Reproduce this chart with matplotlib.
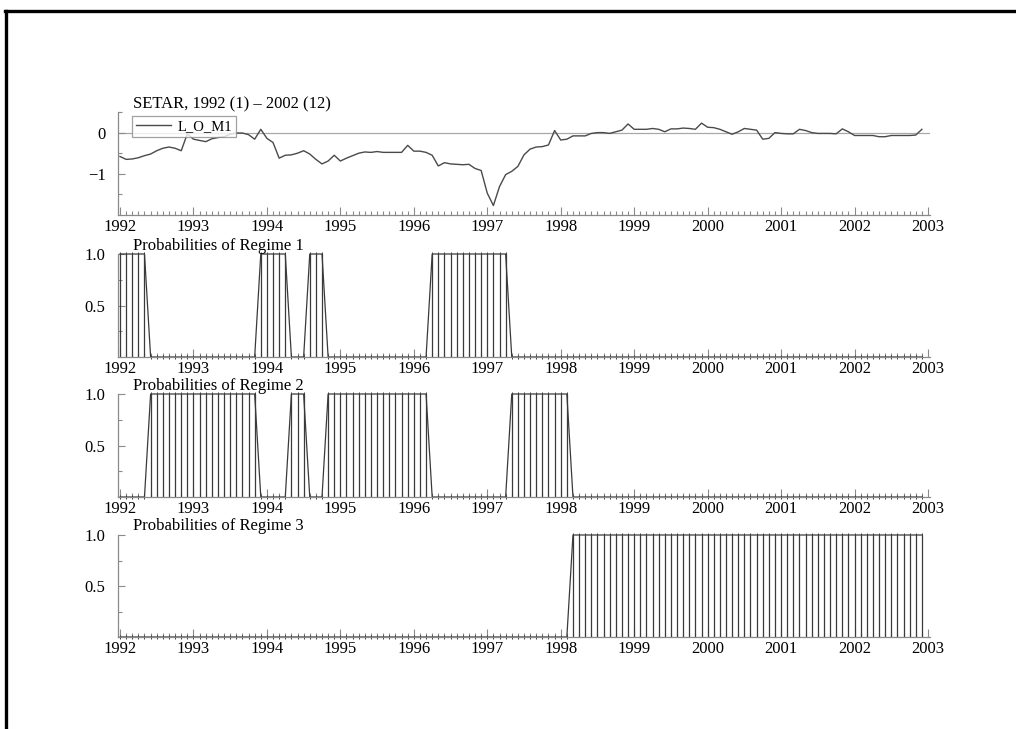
import matplotlib
matplotlib.use("Agg")
import matplotlib.pyplot as plt
from matplotlib.lines import Line2D
from matplotlib.ticker import MultipleLocator, FixedLocator
import numpy as np

# ---------------- data ----------------
start_year = 1992
n_months = 132  # 1992(1) - 2002(12)

l_o_m1 = [
    -0.58, -0.65, -0.64, -0.61, -0.56, -0.52, -0.44, -0.38, -0.35, -0.38, -0.44, -0.03,
    -0.16, -0.19, -0.22, -0.15, -0.12, -0.10, -0.04, -0.01, -0.01, -0.05, -0.16, 0.08,
    -0.14, -0.24, -0.62, -0.55, -0.54, -0.50, -0.44, -0.52, -0.65, -0.76, -0.69, -0.55,
    -0.69, -0.62, -0.56, -0.50, -0.47, -0.48, -0.46, -0.48, -0.48, -0.48, -0.48, -0.31,
    -0.45, -0.45, -0.48, -0.55, -0.81, -0.73, -0.76, -0.77, -0.78, -0.77, -0.87, -0.92,
    -1.47, -1.77, -1.31, -1.02, -0.94, -0.82, -0.54, -0.40, -0.35, -0.34, -0.30, 0.05,
    -0.18, -0.16, -0.08, -0.08, -0.08, -0.02, 0.00, 0.00, -0.02, 0.02, 0.06, 0.21,
    0.08, 0.08, 0.08, 0.10, 0.08, 0.02, 0.09, 0.09, 0.11, 0.10, 0.08, 0.23,
    0.13, 0.12, 0.08, 0.02, -0.04, 0.02, 0.10, 0.08, 0.06, -0.16, -0.14, 0.00,
    -0.02, -0.03, -0.03, 0.08, 0.05, 0.00, -0.02, -0.02, -0.02, -0.03, 0.09, 0.02,
    -0.07, -0.07, -0.07, -0.07, -0.10, -0.10, -0.07, -0.07, -0.07, -0.07, -0.06, 0.08,
]

# regime assignment per month (1992(1) ... 2002(12))
regime = [
    1, 1, 1, 1, 1, 2, 2, 2, 2, 2, 2, 2,
    2, 2, 2, 2, 2, 2, 2, 2, 2, 2, 2, 1,
    1, 1, 1, 1, 2, 2, 2, 1, 1, 1, 2, 2,
    2, 2, 2, 2, 2, 2, 2, 2, 2, 2, 2, 2,
    2, 2, 2, 1, 1, 1, 1, 1, 1, 1, 1, 1,
    1, 1, 1, 1, 2, 2, 2, 2, 2, 2, 2, 2,
    2, 2, 3, 3, 3, 3, 3, 3, 3, 3, 3, 3,
    3, 3, 3, 3, 3, 3, 3, 3, 3, 3, 3, 3,
    3, 3, 3, 3, 3, 3, 3, 3, 3, 3, 3, 3,
    3, 3, 3, 3, 3, 3, 3, 3, 3, 3, 3, 3,
    3, 3, 3, 3, 3, 3, 3, 3, 3, 3, 3, 3,
]

year_ticks = list(range(1992, 2004))
title_main = "SETAR, 1992 (1) \u2013 2002 (12)"
series_name = "L_O_M1"
prob_titles = ["Probabilities of Regime 1", "Probabilities of Regime 2",
               "Probabilities of Regime 3"]

# ---------------- figure ----------------
W, H = 1016, 729
fig = plt.figure(figsize=(W / 100, H / 100), dpi=100)
plt.rcParams['font.family'] = ['Liberation Serif', 'DejaVu Serif']
FS = 12
AXC = '#8a8a8a'

x = start_year + np.arange(n_months) / 12.0

left_px, right_px = 118, 930
xlim = (1992 - 2 / 73.45, 2003 + 2 / 73.45)

def add_axes(top_px, bot_px):
    return fig.add_axes([left_px / W, 1 - bot_px / H,
                         (right_px - left_px) / W, (bot_px - top_px) / H])

def style(ax):
    for s in ('top', 'right'):
        ax.spines[s].set_visible(False)
    for s in ('left', 'bottom'):
        ax.spines[s].set_color(AXC)
        ax.spines[s].set_linewidth(0.9)
    ax.set_xlim(*xlim)
    ax.xaxis.set_major_locator(FixedLocator(year_ticks))
    ax.xaxis.set_minor_locator(MultipleLocator(1 / 12))
    ax.set_xticklabels([str(y) for y in year_ticks])
    ax.tick_params(axis='both', which='both', direction='in', colors=AXC,
                   labelcolor='black', labelsize=FS, width=0.8)
    ax.tick_params(axis='x', which='major', length=6, pad=3)
    ax.tick_params(axis='x', which='minor', length=3)
    ax.tick_params(axis='y', which='major', length=5, pad=9)
    ax.tick_params(axis='y', which='minor', length=3)
    ax.set_facecolor('none')

# Panel 1: series
ax1 = add_axes(112, 215)
style(ax1)
ax1.set_ylim(-2, 0.5)
ax1.yaxis.set_major_locator(FixedLocator([-1, 0]))
ax1.yaxis.set_minor_locator(FixedLocator([-1.5, -0.5, 0.5]))
ax1.set_yticklabels(['\u22121', '0'])
ax1.axhline(0, color='#a8a8a8', lw=0.9, zorder=1)
ax1.plot(x, l_o_m1, color='#4a4a4a', lw=1.0, zorder=2, label=series_name)
leg = ax1.legend(loc='upper left', bbox_to_anchor=(132 / W, 1 - 116 / H),
                 bbox_transform=fig.transFigure, borderaxespad=0,
                 frameon=True, fancybox=False, fontsize=10.5,
                 handlelength=2.4, handletextpad=0.5, borderpad=0.25)
leg.get_frame().set_edgecolor('#8a8a8a')
leg.get_frame().set_linewidth(0.9)
fig.text(133 / W, 1 - 104 / H, title_main, fontsize=FS, va='center', ha='left')

# Probability panels
panel_px = [(254, 357), (394, 497), (535, 637)]
for k, ((tp, bp), ttl) in enumerate(zip(panel_px, prob_titles), start=1):
    ax = add_axes(tp, bp)
    style(ax)
    prob = np.array([1.0 if r == k else 0.0 for r in regime])
    ax.set_ylim(0, 1)
    ax.yaxis.set_major_locator(FixedLocator([0.5, 1.0]))
    ax.yaxis.set_minor_locator(FixedLocator([0.25, 0.75]))
    ax.set_yticklabels(['0.5', '1.0'])
    ax.vlines(x, 0, prob, color='#3a3a3a', lw=0.9, zorder=2)
    ax.plot(x, prob, color='#3a3a3a', lw=0.9, zorder=2,
            marker='|', ms=3, mew=0.7, clip_on=False)
    fig.text(133 / W, 1 - (tp - 8.5) / H, ttl, fontsize=FS, va='center', ha='left')

# page frame (top and left border)
fig.add_artist(Line2D([5 / W, 1], [1 - 10.5 / H, 1 - 10.5 / H], color='black',
                      lw=2.4, transform=fig.transFigure))
fig.add_artist(Line2D([5.5 / W, 5.5 / W], [0, 1 - 10.5 / H], color='black',
                      lw=2.4, transform=fig.transFigure))

fig.savefig('out.png', dpi=100)
